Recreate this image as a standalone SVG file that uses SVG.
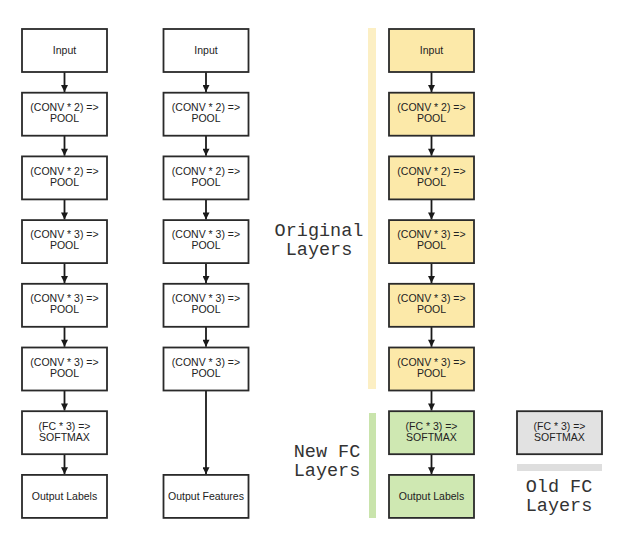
<svg xmlns="http://www.w3.org/2000/svg" width="623" height="533" viewBox="0 0 623 533">
<style>
.box{stroke:#2a2a2a;stroke-width:1.8}
.w{fill:#ffffff}
.y{fill:#fce9a9}
.g{fill:#cfe8b2}
.gr{fill:#e2e2e2}
.t{font-family:"Liberation Sans",Arial,sans-serif;font-size:10.5px;fill:#222;text-anchor:middle}
.m{font-family:"Liberation Mono","Courier New",monospace;font-size:18.5px;fill:#333;text-anchor:middle}
.c{stroke:#1a1a1a;stroke-width:1.8;fill:none}
</style>
<defs>
<marker id="ah" viewBox="0 0 10 10" refX="10" refY="5" markerWidth="8" markerHeight="7" orient="auto" markerUnits="userSpaceOnUse">
<path d="M0,0 L10,5 L0,10 z" fill="#1a1a1a"/>
</marker>
</defs>
<rect width="623" height="533" fill="#ffffff"/>
<g id="bars">
<rect x="368" y="28" width="8" height="361" fill="#fcefc4"/>
<rect x="369" y="413" width="7" height="105" fill="#c9e4ac"/>
<rect x="517" y="464" width="85" height="7" fill="#dedede"/>
</g>
<g id="labels">
<text class="m" x="319" y="236">Original</text>
<text class="m" x="319" y="255">Layers</text>
<text class="m" x="327" y="457">New FC</text>
<text class="m" x="327" y="476">Layers</text>
<text class="m" x="559" y="492">Old FC</text>
<text class="m" x="559" y="511">Layers</text>
</g>
<g id="connectors">
<line class="c" x1="64.5" y1="72" x2="64.5" y2="92" marker-end="url(#ah)"/>
<line class="c" x1="64.5" y1="135.7" x2="64.5" y2="155.7" marker-end="url(#ah)"/>
<line class="c" x1="64.5" y1="199.4" x2="64.5" y2="219.4" marker-end="url(#ah)"/>
<line class="c" x1="64.5" y1="263.1" x2="64.5" y2="283.1" marker-end="url(#ah)"/>
<line class="c" x1="64.5" y1="326.8" x2="64.5" y2="346.8" marker-end="url(#ah)"/>
<line class="c" x1="64.5" y1="390.5" x2="64.5" y2="410.5" marker-end="url(#ah)"/>
<line class="c" x1="64.5" y1="454.2" x2="64.5" y2="474.2" marker-end="url(#ah)"/>
<line class="c" x1="206" y1="72" x2="206" y2="92" marker-end="url(#ah)"/>
<line class="c" x1="206" y1="135.7" x2="206" y2="155.7" marker-end="url(#ah)"/>
<line class="c" x1="206" y1="199.4" x2="206" y2="219.4" marker-end="url(#ah)"/>
<line class="c" x1="206" y1="263.1" x2="206" y2="283.1" marker-end="url(#ah)"/>
<line class="c" x1="206" y1="326.8" x2="206" y2="346.8" marker-end="url(#ah)"/>
<line class="c" x1="206" y1="390.5" x2="206" y2="474.2" marker-end="url(#ah)"/>
<line class="c" x1="431.5" y1="72" x2="431.5" y2="92" marker-end="url(#ah)"/>
<line class="c" x1="431.5" y1="135.7" x2="431.5" y2="155.7" marker-end="url(#ah)"/>
<line class="c" x1="431.5" y1="199.4" x2="431.5" y2="219.4" marker-end="url(#ah)"/>
<line class="c" x1="431.5" y1="263.1" x2="431.5" y2="283.1" marker-end="url(#ah)"/>
<line class="c" x1="431.5" y1="326.8" x2="431.5" y2="346.8" marker-end="url(#ah)"/>
<line class="c" x1="431.5" y1="390.5" x2="431.5" y2="410.5" marker-end="url(#ah)"/>
<line class="c" x1="431.5" y1="454.2" x2="431.5" y2="474.2" marker-end="url(#ah)"/>
</g>
<g id="a1"><rect class="box w" x="22" y="29" width="85" height="43"/><text class="t" x="64.5" y="54">Input</text></g>
<g id="a2"><rect class="box w" x="22" y="92.7" width="85" height="43"/><text class="t" x="64.5" y="111">(CONV * 2) =&gt;</text><text class="t" x="64.5" y="122">POOL</text></g>
<g id="a3"><rect class="box w" x="22" y="156.4" width="85" height="43"/><text class="t" x="64.5" y="174.7">(CONV * 2) =&gt;</text><text class="t" x="64.5" y="185.7">POOL</text></g>
<g id="a4"><rect class="box w" x="22" y="220.1" width="85" height="43"/><text class="t" x="64.5" y="238.4">(CONV * 3) =&gt;</text><text class="t" x="64.5" y="249.4">POOL</text></g>
<g id="a5"><rect class="box w" x="22" y="283.8" width="85" height="43"/><text class="t" x="64.5" y="302.1">(CONV * 3) =&gt;</text><text class="t" x="64.5" y="313.1">POOL</text></g>
<g id="a6"><rect class="box w" x="22" y="347.5" width="85" height="43"/><text class="t" x="64.5" y="365.8">(CONV * 3) =&gt;</text><text class="t" x="64.5" y="376.8">POOL</text></g>
<g id="a7"><rect class="box w" x="22" y="411.2" width="85" height="43"/><text class="t" x="64.5" y="429.5">(FC * 3) =&gt;</text><text class="t" x="64.5" y="440.5">SOFTMAX</text></g>
<g id="a8"><rect class="box w" x="22" y="474.9" width="85" height="43"/><text class="t" x="64.5" y="499.9">Output Labels</text></g>
<g id="b1"><rect class="box w" x="163.5" y="29" width="85" height="43"/><text class="t" x="206" y="54">Input</text></g>
<g id="b2"><rect class="box w" x="163.5" y="92.7" width="85" height="43"/><text class="t" x="206" y="111">(CONV * 2) =&gt;</text><text class="t" x="206" y="122">POOL</text></g>
<g id="b3"><rect class="box w" x="163.5" y="156.4" width="85" height="43"/><text class="t" x="206" y="174.7">(CONV * 2) =&gt;</text><text class="t" x="206" y="185.7">POOL</text></g>
<g id="b4"><rect class="box w" x="163.5" y="220.1" width="85" height="43"/><text class="t" x="206" y="238.4">(CONV * 3) =&gt;</text><text class="t" x="206" y="249.4">POOL</text></g>
<g id="b5"><rect class="box w" x="163.5" y="283.8" width="85" height="43"/><text class="t" x="206" y="302.1">(CONV * 3) =&gt;</text><text class="t" x="206" y="313.1">POOL</text></g>
<g id="b6"><rect class="box w" x="163.5" y="347.5" width="85" height="43"/><text class="t" x="206" y="365.8">(CONV * 3) =&gt;</text><text class="t" x="206" y="376.8">POOL</text></g>
<g id="b8"><rect class="box w" x="163.5" y="474.9" width="85" height="43"/><text class="t" x="206" y="499.9">Output Features</text></g>
<g id="c1"><rect class="box y" x="389" y="29" width="85" height="43"/><text class="t" x="431.5" y="54">Input</text></g>
<g id="c2"><rect class="box y" x="389" y="92.7" width="85" height="43"/><text class="t" x="431.5" y="111">(CONV * 2) =&gt;</text><text class="t" x="431.5" y="122">POOL</text></g>
<g id="c3"><rect class="box y" x="389" y="156.4" width="85" height="43"/><text class="t" x="431.5" y="174.7">(CONV * 2) =&gt;</text><text class="t" x="431.5" y="185.7">POOL</text></g>
<g id="c4"><rect class="box y" x="389" y="220.1" width="85" height="43"/><text class="t" x="431.5" y="238.4">(CONV * 3) =&gt;</text><text class="t" x="431.5" y="249.4">POOL</text></g>
<g id="c5"><rect class="box y" x="389" y="283.8" width="85" height="43"/><text class="t" x="431.5" y="302.1">(CONV * 3) =&gt;</text><text class="t" x="431.5" y="313.1">POOL</text></g>
<g id="c6"><rect class="box y" x="389" y="347.5" width="85" height="43"/><text class="t" x="431.5" y="365.8">(CONV * 3) =&gt;</text><text class="t" x="431.5" y="376.8">POOL</text></g>
<g id="c7"><rect class="box g" x="389" y="411.2" width="85" height="43"/><text class="t" x="431.5" y="429.5">(FC * 3) =&gt;</text><text class="t" x="431.5" y="440.5">SOFTMAX</text></g>
<g id="c8"><rect class="box g" x="389" y="474.9" width="85" height="43"/><text class="t" x="431.5" y="499.9">Output Labels</text></g>
<g id="d1"><rect class="box gr" x="517" y="411.2" width="85" height="43"/><text class="t" x="559.5" y="429.5">(FC * 3) =&gt;</text><text class="t" x="559.5" y="440.5">SOFTMAX</text></g>
</svg>
